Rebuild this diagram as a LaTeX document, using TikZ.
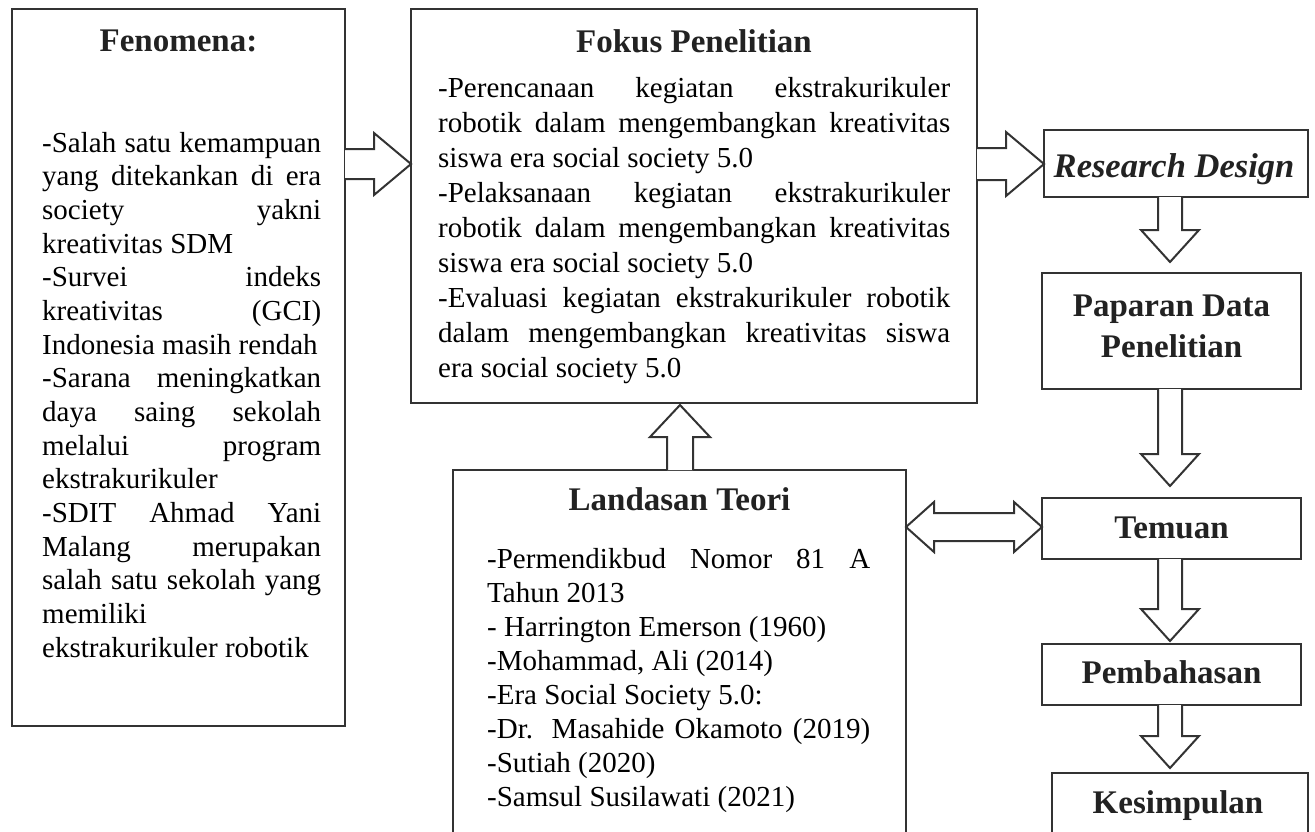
\documentclass[tikz,border=0pt]{standalone}
\usepackage{fontspec}
\setmainfont{Liberation Serif}
\usetikzlibrary{calc}
\hbadness=10000
% one justified line / one ragged line of a text block
\newcommand\fjust[1]{\hbox to\hsize{#1}}
\newcommand\fleft[1]{\hbox to\hsize{#1\hfil}}
% text block: width, line distance, lines
\newcommand\textblock[3]{\vtop{\hsize=#1\fontsize{29}{#2}\selectfont\baselineskip=#2 #3}}
\definecolor{linec}{HTML}{333333}
\definecolor{titlec}{HTML}{222222}
\begin{document}
\begin{tikzpicture}[x=1pt,y=-1pt,
  box/.style={draw=linec, line width=2.6pt, inner sep=0pt, outer sep=0pt, anchor=north west},
  barrow/.style={draw=linec, line width=2pt, fill=white, line join=miter},
  ttl/.style={font=\bfseries\fontsize{33}{38}\selectfont, text=titlec, inner sep=0pt, anchor=base},
  body/.style={inner sep=0pt, anchor=base west}]
\useasboundingbox (0,0) rectangle (1315,831);
\clip (0,0) rectangle (1315,831);

% boxes
\node[box, minimum width=333pt, minimum height=717pt] (fen) at (12,9) {};
\node[box, minimum width=566pt, minimum height=394pt] (fok) at (411,9) {};
\node[box, minimum width=264pt, minimum height=67pt]  (rd)  at (1044,130) {};
\node[box, minimum width=259pt, minimum height=116pt] (pap) at (1042,273) {};
\node[box, minimum width=259pt, minimum height=61pt]  (tem) at (1042,498) {};
\node[box, minimum width=259pt, minimum height=61pt]  (pem) at (1042,644) {};
\node[box, minimum width=256pt, minimum height=90pt]  (kes) at (1052,773) {};
\node[box, minimum width=453pt, minimum height=390pt] (lan) at (453,470) {};

% guide lines for the arrows
\coordinate (rowA) at (0,164);
\coordinate (rowT) at (0,527);
\coordinate (colR) at (1170,0);
\coordinate (colL) at (680,0);

% Fenomena -> Fokus Penelitian
\coordinate (a1s) at (fen.east |- rowA);
\coordinate (a1t) at (fok.west |- rowA);
\draw[barrow] ($(a1s)+(0,-15)$) -- ($(a1t)+(-37,-15)$) -- ($(a1t)+(-37,-31)$) -- (a1t)
  -- ($(a1t)+(-37,31)$) -- ($(a1t)+(-37,15)$) -- ($(a1s)+(0,15)$);

% Fokus Penelitian -> Research Design
\coordinate (a2s) at (fok.east |- rowA);
\coordinate (a2t) at (rd.west |- rowA);
\draw[barrow] ($(a2s)+(0,-16)$) -- ($(a2t)+(-38,-16)$) -- ($(a2t)+(-38,-32)$) -- (a2t)
  -- ($(a2t)+(-38,32)$) -- ($(a2t)+(-38,16)$) -- ($(a2s)+(0,16)$);

% vertical chain on the right
\newcommand\downblock[2]{%
  \draw[barrow] ($(#1)+(-12,0)$) -- ($(#2)+(-12,-32)$) -- ($(#2)+(-29,-32)$) -- (#2)
    -- ($(#2)+(29,-32)$) -- ($(#2)+(12,-32)$) -- ($(#1)+(12,0)$);}
\coordinate (a3s) at (rd.south -| colR);
\coordinate (a3t) at ($(pap.north -| colR)+(0,-11)$);
\downblock{a3s}{a3t}
\coordinate (a4s) at (pap.south -| colR);
\coordinate (a4t) at ($(tem.north -| colR)+(0,-12)$);
\downblock{a4s}{a4t}
\coordinate (a5s) at (tem.south -| colR);
\coordinate (a5t) at ($(pem.north -| colR)+(0,-3)$);
\downblock{a5s}{a5t}
\coordinate (a6s) at (pem.south -| colR);
\coordinate (a6t) at ($(kes.north -| colR)+(0,-5)$);
\downblock{a6s}{a6t}

% Landasan Teori -> Fokus Penelitian
\coordinate (a7s) at (lan.north -| colL);
\coordinate (a7t) at ($(fok.south -| colL)+(0,2)$);
\draw[barrow] ($(a7s)+(-13,0)$) -- ($(a7t)+(-13,32)$) -- ($(a7t)+(-30,32)$) -- (a7t)
  -- ($(a7t)+(30,32)$) -- ($(a7t)+(13,32)$) -- ($(a7s)+(13,0)$);

% Landasan Teori <-> Temuan
\coordinate (a8l) at (lan.east |- rowT);
\coordinate (a8r) at (tem.west |- rowT);
\draw[barrow] (a8l) -- ($(a8l)+(28,-25)$) -- ($(a8l)+(28,-14)$) -- ($(a8r)+(-28,-14)$)
  -- ($(a8r)+(-28,-25)$) -- (a8r) -- ($(a8r)+(-28,25)$) -- ($(a8r)+(-28,14)$)
  -- ($(a8l)+(28,14)$) -- ($(a8l)+(28,25)$) -- cycle;

% titles
\node[ttl] (fen-t) at (178.5,51) {Fenomena:};
\node[ttl] (fok-t) at (694,52) {Fokus Penelitian};
\node[ttl] (lan-t) at (679.5,510) {Landasan Teori};
\node[ttl, font=\bfseries\itshape\fontsize{34.5}{40}\selectfont] (rd-t) at (1174,177) {Research Design};
\node[ttl] (pap-t1) at (1171.5,316) {Paparan Data};
\node[ttl] (pap-t2) at (1171.5,357) {Penelitian};
\node[ttl] (tem-t) at (1171.5,538) {Temuan};
\node[ttl] (pem-t) at (1171.5,683) {Pembahasan};
\node[ttl] (kes-t) at (1178,813) {Kesimpulan};

% body texts
\node[body] (fen-b) at (42,152) {\textblock{279pt}{33.67pt}{%
  \fjust{-Salah satu kemampuan}%
  \fjust{yang ditekankan di era}%
  \fjust{society yakni}%
  \fleft{kreativitas SDM}%
  \fjust{-Survei indeks}%
  \fjust{kreativitas (GCI)}%
  \fleft{Indonesia masih rendah}%
  \fjust{-Sarana meningkatkan}%
  \fjust{daya saing sekolah}%
  \fjust{melalui program}%
  \fleft{ekstrakurikuler}%
  \fjust{-SDIT Ahmad Yani}%
  \fjust{Malang merupakan}%
  \fjust{salah satu sekolah yang}%
  \fleft{memiliki}%
  \fleft{ekstrakurikuler robotik}}};

\node[body] (fok-b) at (438,97) {\textblock{512pt}{35pt}{%
  \fjust{-Perencanaan kegiatan ekstrakurikuler}%
  \fjust{robotik dalam mengembangkan kreativitas}%
  \fleft{siswa era social society 5.0}%
  \fjust{-Pelaksanaan kegiatan ekstrakurikuler}%
  \fjust{robotik dalam mengembangkan kreativitas}%
  \fleft{siswa era social society 5.0}%
  \fjust{-Evaluasi kegiatan ekstrakurikuler robotik}%
  \fjust{dalam mengembangkan kreativitas siswa}%
  \fleft{era social society 5.0}}};

\node[body] (lan-b) at (487,568) {\textblock{383pt}{34.1pt}{%
  \fjust{-Permendikbud Nomor 81 A}%
  \fleft{Tahun 2013}%
  \fleft{- Harrington Emerson (1960)}%
  \fleft{-Mohammad, Ali (2014)}%
  \fleft{-Era Social Society 5.0:}%
  \fjust{-Dr. Masahide Okamoto (2019)}%
  \fleft{-Sutiah (2020)}%
  \fleft{-Samsul Susilawati (2021)}}};
\end{tikzpicture}
\end{document}
